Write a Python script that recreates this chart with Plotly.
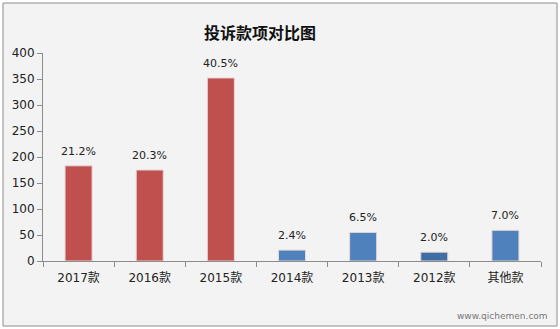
import plotly.graph_objects as go

categories = ["2017款", "2016款", "2015款", "2014款", "2013款", "2012款", "其他款"]
values = [183, 175, 352, 21, 55, 17, 59]
pct_labels = ["21.2%", "20.3%", "40.5%", "2.4%", "6.5%", "2.0%", "7.0%"]
colors = ["#c0504d", "#c0504d", "#c0504d", "#4f81bd", "#4f81bd", "#3f6ea3", "#4f81bd"]
title = "投诉款项对比图"

L, R, T, B = 43, 19, 53, 68
W, H = 560, 329
pw, ph = W - L - R, H - T - B
px = lambda x: (x - L) / pw
py = lambda y: (H - B - y) / ph

font = "DejaVu Sans, Noto Sans CJK SC, sans-serif"

fig = go.Figure(go.Bar(
    x=categories, y=values,
    marker=dict(color=colors, line=dict(color="#e6d8d8", width=1)),
    width=0.38,
))

annotations = [
    dict(x=c, y=v, text=t, xref="x", yref="y", showarrow=False,
         yanchor="bottom", yshift=6, font=dict(size=11, color="#222222", family=font))
    for c, v, t in zip(categories, values, pct_labels)
]
annotations += [
    dict(text="<b>" + title + "</b>", xref="paper", yref="paper",
         x=px(260), y=py(32), xanchor="center", yanchor="middle", showarrow=False,
         font=dict(size=16, color="#111111", family="Noto Sans CJK SC, sans-serif")),
    dict(text="www.qichemen.com", xref="paper", yref="paper",
         x=px(502), y=py(316), xanchor="center", yanchor="middle", showarrow=False,
         font=dict(size=9, color="#777777", family=font)),
]

fig.update_layout(
    width=W, height=H, margin=dict(l=L, r=R, t=T, b=B),
    paper_bgcolor="white", plot_bgcolor="rgba(0,0,0,0)",
    showlegend=False,
    font=dict(family=font, size=11, color="#222222"),
    shapes=[dict(type="rect", xref="paper", yref="paper",
                 x0=px(3), x1=px(557), y0=py(326), y1=py(3),
                 fillcolor="#f3f3f3", line=dict(color="#8c8c8c", width=1),
                 layer="below")],
    annotations=annotations,
)
fig.update_xaxes(showline=True, linecolor="#8c8c8c", linewidth=1,
                 ticks="outside", tickson="boundaries", ticklen=5, tickcolor="#8c8c8c",
                 ticklabelstandoff=6,
                 tickfont=dict(size=12, color="#222222"), showgrid=False)
fig.update_yaxes(range=[0, 400], dtick=50, showline=True, linecolor="#8c8c8c", linewidth=1,
                 ticks="outside", ticklen=5, tickcolor="#8c8c8c", showgrid=False,
                 zeroline=False, tickfont=dict(size=12, color="#222222"))

fig.write_html("out.html")
